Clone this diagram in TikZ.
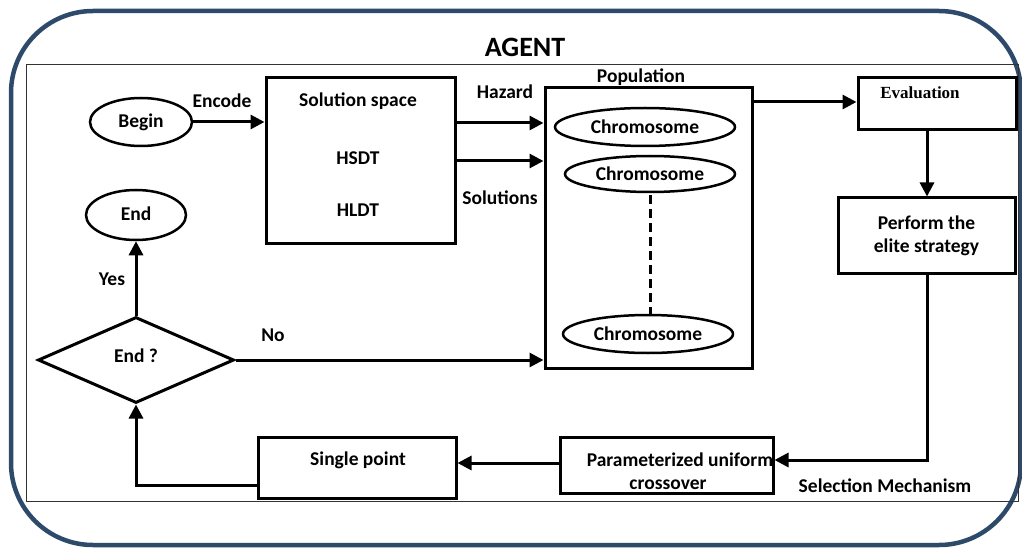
\documentclass[tikz,border=0pt]{standalone}
\usepackage{fontspec}
\setmainfont{Carlito}
\newfontfamily\serifb{Liberation Serif}
\usetikzlibrary{shapes.geometric,arrows.meta}
\definecolor{frameblue}{HTML}{2E4A6B}
\tikzset{
  every node/.style={font=\bfseries\fontsize{19.5}{22}\selectfont},
  ellnode/.style={draw,ellipse,line width=2.5pt,inner sep=0pt},
  arr/.style={line width=3pt,-{Triangle[length=14pt,width=14pt]}},
  lbl/.style={inner sep=0pt}
}
\begin{document}
\begin{tikzpicture}[x=1pt,y=-1pt]
\useasboundingbox (0,0) rectangle (1022,548);
% outer frame
\draw[frameblue,line width=4.5pt,rounded corners=82pt] (11,11) rectangle (1021,545);
% inner frame
\draw[black!80,line width=1pt] (26,65) rectangle (1018,501);
\node[lbl,font=\bfseries\fontsize{28}{30}\selectfont] (title) at (525,47) {AGENT};

% nodes
\node[ellnode,minimum width=102pt,minimum height=48pt] (begin) at (141,122) {Begin};
\node[draw,line width=3pt,minimum width=189pt,minimum height=165pt] (sol) at (360.5,160.5) {};
\node[lbl] (soltxt) at (358,101) {Solution space};
\node[lbl] (hsdt) at (358,158) {HSDT};
\node[lbl] (hldt) at (358,210) {HLDT};
\node[draw,line width=3pt,minimum width=207pt,minimum height=280pt] (pop) at (648.5,228) {};
\node[lbl] (poptxt) at (641,77) {Population};
\node[ellnode,minimum width=180pt,minimum height=38pt] (c1) at (645,127) {Chromosome};
\node[ellnode,minimum width=170pt,minimum height=36pt] (c2) at (650,174) {Chromosome};
\node[ellnode,minimum width=170pt,minimum height=38pt] (c3) at (648,334) {Chromosome};
\coordinate (d1) at (650,195);
\coordinate (d2) at (650,314);
\draw[line width=3pt,dash pattern=on 9pt off 5pt] (d1) -- (d2);

\node[draw,line width=3pt,minimum width=158pt,minimum height=52pt] (eval) at (937,104) {};
\node[lbl,font=\serifb\bfseries\fontsize{17}{19}\selectfont] (evaltxt) at (920,93) {Evaluation};
\node[draw,line width=3pt,minimum width=177pt,minimum height=75pt,align=center] (perf) at (926.5,235.5) {Perform the\\[1pt]elite strategy};
\node[draw,line width=3pt,minimum width=213pt,minimum height=56pt] (par) at (666.5,465) {};
\node[lbl] (partxt1) at (680,460) {Parameterized uniform};
\node[lbl] (partxt2) at (668,485) {crossover};
\node[draw,line width=3pt,minimum width=198pt,minimum height=61pt] (sp) at (357,467.5) {};
\node[lbl] (sptxt) at (358,460) {Single point};
\node[draw,diamond,line width=3pt,aspect=2.2,minimum width=196pt,minimum height=86pt,inner sep=0pt] (dec) at (136,360) {};
\node[lbl] (dectxt) at (136,356) {End ?};
\node[ellnode,minimum width=100pt,minimum height=50pt] (endn) at (136,215) {};
\node[lbl] (endtxt) at (136,214) {End};

% labels
\node[lbl] (enc) at (222,101) {Encode};
\node[lbl] (haz) at (505,92) {Hazard};
\node[lbl] (solu) at (500,198) {Solutions};
\node[lbl] (yes) at (112,279) {Yes};
\node[lbl] (no) at (273,335) {No};
\node[lbl] (sel) at (885,486) {Selection Mechanism};

% connectors
\draw[arr] (begin.east) -- (sol.west |- begin.east);
\draw[arr] (sol.east |- 0,123) -- (pop.west |- 0,123);
\draw[arr] (sol.east |- 0,161) -- (pop.west |- 0,161);
\draw[arr] (pop.east |- 0,102) -- (eval.west |- 0,102);
\draw[arr] (eval.south -| 927,0) -- (perf.north -| 927,0);
\draw[arr] (perf.south -| 927,0) -- (927,460) -- (par.east |- 0,460);
\draw[arr] (par.west |- 0,463) -- (sp.east |- 0,463);
\draw[arr] (sp.west |- 0,485) -- (136,485) -- (dec.south);
\draw[arr] (dec.north) -- (endn.south);
\draw[arr] (dec.east) -- (pop.west |- dec.east);
\end{tikzpicture}
\end{document}
